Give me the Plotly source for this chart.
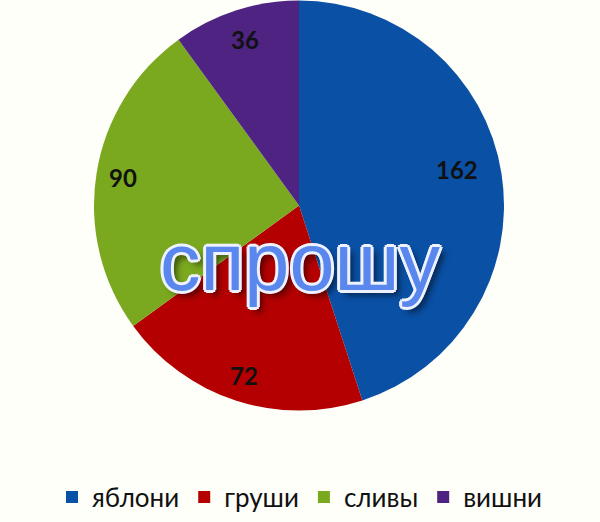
import math
import plotly.graph_objects as go

categories = ["яблони", "груши", "сливы", "вишни"]
values = [162, 72, 90, 36]
colors = ["#0A50A5", "#B40000", "#7AA81E", "#4E2382"]
overlay_text = "спрошу"

# style: placement of each data label (fraction of radius, angular nudge in degrees)
label_radius = [0.79, 0.87, 0.87, 0.85]
label_nudge = [-4, 0, 0, 0]

W, H = 600, 522
CX, CY, R = 299.0, 205.5, 205.0

fig = go.Figure()
fig.add_trace(go.Pie(
    labels=categories,
    values=values,
    sort=False,
    direction="clockwise",
    rotation=0,
    marker=dict(colors=colors, line=dict(width=0)),
    textinfo="none",
    domain=dict(x=[(CX - R) / W, (CX + R) / W], y=[1 - (CY + R) / H, 1 - (CY - R) / H]),
    hoverinfo="label+value",
))

# data labels placed at each slice's mid-angle (computed from the values)
total = sum(values)
cum = 0
for v, f, nd in zip(values, label_radius, label_nudge):
    mid = (cum + v / 2) / total * 2 * math.pi + math.radians(nd)
    cum += v
    px = CX + f * R * math.sin(mid)
    py = CY - f * R * math.cos(mid)
    fig.add_annotation(
        x=px / W, y=1 - py / H, xref="paper", yref="paper",
        text=f"<b>{v}</b>", showarrow=False,
        font=dict(family="Lato", size=24, color="#111111"),
        xanchor="center", yanchor="middle",
    )

halo = "#EEF2FF"
fig.add_annotation(
    x=0.5, y=(1 - 262 / H), xref="paper", yref="paper",
    text=overlay_text, showarrow=False,
    font=dict(family="Liberation Sans", size=81, color="#5A87EE",
              shadow=(f"-2px -2px 0 {halo}, 2px -2px 0 {halo}, -2px 2px 0 {halo}, 2px 2px 0 {halo}, "
                      f"0 -3px 0 {halo}, 0 3px 0 {halo}, -3px 0 0 {halo}, 3px 0 0 {halo}, "
                      "5px 5px 6px rgba(0,0,0,0.6)")),
    xanchor="center", yanchor="middle",
)

fig.update_layout(
    width=W, height=H,
    margin=dict(l=0, r=0, t=0, b=0),
    paper_bgcolor="#FEFFF9",
    plot_bgcolor="#FEFFF9",
    showlegend=True,
    legend=dict(
        orientation="h", x=0.5, xanchor="center", y=1 - 497 / H, yanchor="middle",
        font=dict(family="Lato", size=26, color="#111111"),
        traceorder="normal",
    ),
)

fig.write_html("out.html", config={"displayModeBar": False},
               post_script="document.body.style.margin='0px';document.body.style.background='#FEFFF9';")
